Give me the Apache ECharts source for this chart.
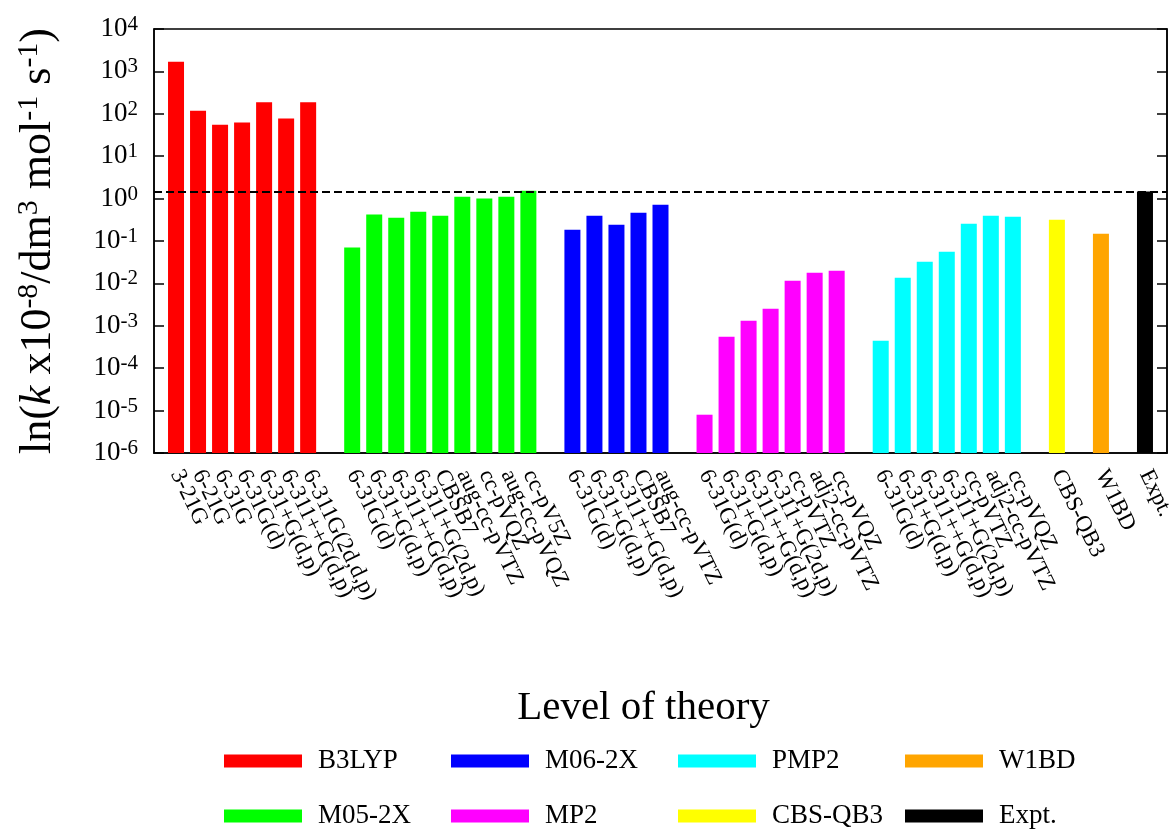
<!DOCTYPE html>
<html><head><meta charset="utf-8">
<script src="https://cdn.jsdelivr.net/npm/echarts@6/dist/echarts.min.js"></script>
<style>html,body{margin:0;padding:0;background:#fff}#c{width:1172px;height:830px}</style>
</head><body><div id="c"></div>
<script>
// ---- data ----
const b3lypBasis = ['3-21G','6-21G','6-31G','6-31G(d)','6-31+G(d,p)','6-311++G(d,p)','6-311G(2d,d,p)'];
const b3lypValues = [1700, 118, 55, 62, 186, 77, 186];
const m052xBasis = ['6-31G(d)','6-31+G(d,p)','6-311++G(d,p)','6-311+G(2d,p)','CBSB7','aug-cc-pVTZ','cc-pVQZ','aug-cc-pVQZ','cc-pV5Z'];
const m052xValues = [0.070, 0.42, 0.355, 0.49, 0.395, 1.11, 1.0, 1.11, 1.53];
const m062xBasis = ['6-31G(d)','6-31+G(d,p)','6-311++G(d,p)','CBSB7','aug-cc-pVTZ'];
const m062xValues = [0.185, 0.395, 0.243, 0.466, 0.72];
const mp2Basis = ['6-31G(d)','6-31+G(d,p)','6-311++G(d,p)','6-311+G(2d,p)','cc-pVTZ','adj2-cc-pVTZ','cc-pVQZ'];
const mp2Values = [8.0e-6, 5.5e-4, 1.32e-3, 2.53e-3, 0.0116, 0.0179, 0.020];
const pmp2Basis = ['6-31G(d)','6-31+G(d,p)','6-311++G(d,p)','6-311+G(2d,p)','cc-pVTZ','adj2-cc-pVTZ','cc-pVQZ'];
const pmp2Values = [4.45e-4, 0.0136, 0.0325, 0.056, 0.256, 0.395, 0.374];
const cbsqb3Basis = ['CBS-QB3'];
const cbsqb3Values = [0.318];
const w1bdBasis = ['W1BD'];
const w1bdValues = [0.149];
const exptBasis = ['Expt.'];
const exptValues = [1.48];
const methodNames = ['B3LYP','M05-2X','M06-2X','MP2','PMP2','CBS-QB3','W1BD','Expt.'];
const methodColors = ['#ff0000','#00ff00','#0000ff','#ff00ff','#00ffff','#ffff00','#ffa500','#000000'];
const yMin = 1e-6, yMax = 1e4;

// ---- build categories (one empty slot before, between groups, after) ----
const groups = [
  [b3lypBasis, b3lypValues], [m052xBasis, m052xValues], [m062xBasis, m062xValues],
  [mp2Basis, mp2Values], [pmp2Basis, pmp2Values], [cbsqb3Basis, cbsqb3Values],
  [w1bdBasis, w1bdValues], [exptBasis, exptValues]
];
const categories = [''];
const slots = [];
groups.forEach((g, gi) => {
  if (gi > 0) categories.push('');
  const idx = [];
  g[0].forEach(l => { idx.push(categories.length); categories.push(l); });
  slots.push(idx);
});
categories.push('');

const FONT = 'Liberation Serif';
const series = groups.map((g, gi) => {
  const data = categories.map(() => '-');
  slots[gi].forEach((ci, k) => { data[ci] = g[1][k]; });
  const s = {
    name: methodNames[gi], type: 'bar', data: data, barWidth: 16, barGap: '-100%',
    itemStyle: { color: methodColors[gi] }, emphasis: { disabled: true }
  };
  if (methodNames[gi] === 'Expt.') {
    s.markLine = {
      silent: true, symbol: ['none', 'none'], label: { show: false },
      lineStyle: { color: '#000', type: [8, 4], width: 2 },
      data: [{ yAxis: exptValues[0] }]
    };
  }
  return s;
});

const legendCols = [224, 451, 678, 905];
const legendRows = [746, 801];
const legendOrder = ['B3LYP','M05-2X','M06-2X','MP2','PMP2','CBS-QB3','W1BD','Expt.'];
const legends = legendOrder.map((n, i) => ({
  data: [n], left: legendCols[Math.floor(i / 2)], top: legendRows[i % 2],
  orient: 'horizontal', padding: 0, itemWidth: 78, itemHeight: 13, icon: 'rect',
  textStyle: { fontFamily: FONT, fontSize: 27, color: '#000', lineHeight: 30, padding: [0, 0, 0, 11] }
}));

const chart = echarts.init(document.getElementById('c'), null, { renderer: 'canvas' });
chart.setOption({
  animation: false,
  backgroundColor: '#fff',
  textStyle: { fontFamily: FONT },
  legend: legends,
  grid: { left: 154, right: 5, top: 29, bottom: 377, containLabel: false, outerBoundsMode: 'none',
          show: true, borderColor: '#000', borderWidth: 1.5, backgroundColor: 'transparent' },
  xAxis: {
    type: 'category', data: categories, boundaryGap: false,
    axisLine: { lineStyle: { color: '#000', width: 1.5 } },
    axisTick: { show: false }, splitLine: { show: false },
    axisLabel: { interval: 0, rotate: -64, margin: 18, fontFamily: FONT, fontSize: 23, color: '#000' },
    name: 'Level of theory', nameLocation: 'middle', nameGap: 235,
    nameTextStyle: { fontFamily: FONT, fontSize: 41, color: '#000', padding: [0, 34, 0, 0] }
  },
  yAxis: [{
    type: 'log', logBase: 10, min: yMin, max: yMax, startValue: yMin, splitNumber: 10, interval: 1,
    axisLine: { show: true, lineStyle: { color: '#000', width: 1.5 } },
    axisTick: { show: true, inside: true, length: 10, lineStyle: { color: '#000', width: 1.5 } },
    minorTick: { show: false }, splitLine: { show: false },
    axisLabel: {
      margin: 16, color: '#000', showMinLabel: true, showMaxLabel: true,
      formatter: v => '{b|10}{s|' + Math.round(Math.log10(v)) + '}',
      rich: {
        b: { fontFamily: FONT, fontSize: 27, lineHeight: 30, color: '#000' },
        s: { fontFamily: FONT, fontSize: 21, lineHeight: 18, verticalAlign: 'top', color: '#000' }
      }
    },
    name: '{m|ln(}{i|k}{m| x10}{s|-8}{m|/dm}{s|3}{m| mol}{s|-1}{m| s}{s|-1}{m|)}',
    nameLocation: 'middle', nameRotate: 90, nameGap: 92,
    nameTextStyle: {
      rich: {
        m: { fontFamily: FONT, fontSize: 44, lineHeight: 48, color: '#000' },
        i: { fontFamily: FONT, fontSize: 44, lineHeight: 48, fontStyle: 'italic', color: '#000' },
        s: { fontFamily: FONT, fontSize: 30, lineHeight: 28, verticalAlign: 'top', color: '#000' }
      }
    }
  }, {
    type: 'log', logBase: 10, min: yMin, max: yMax, position: 'right', splitNumber: 10, interval: 1,
    axisLine: { show: true, lineStyle: { color: '#000', width: 1.5 } },
    axisTick: { show: true, inside: true, length: 10, lineStyle: { color: '#000', width: 1.5 } },
    minorTick: { show: false }, splitLine: { show: false }, axisLabel: { show: false }
  }],
  series: series
});
</script>
</body></html>
